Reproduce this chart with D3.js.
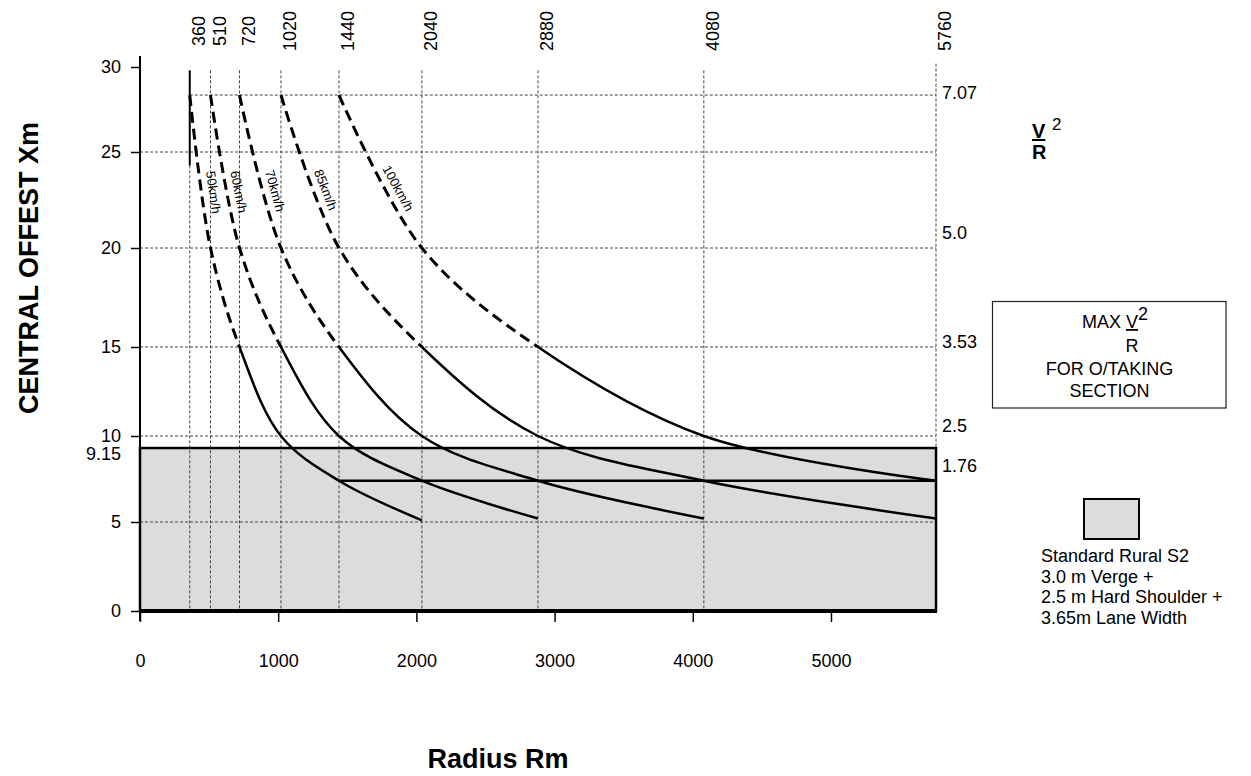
<!DOCTYPE html>
<html><head><meta charset="utf-8">
<script src="https://cdn.jsdelivr.net/npm/d3@7"></script>
<style>
body{margin:0;background:#fff}
svg{display:block}
text{font-family:"Liberation Sans",Arial,Helvetica,sans-serif;fill:#000}
</style>
</head><body>
<svg id="c" width="1251" height="776"></svg>
<script>
// ---------------- data ----------------
const radii = [360, 510, 720, 1020, 1440, 2040, 2880, 4080, 5760];
const radiusLabels = ["360", "510", "720", "1020", "1440", "2040", "2880", "4080", "5760"];
const xTicks = [0, 1000, 2000, 3000, 4000, 5000];
const yTicks = [0, 5, 10, 15, 20, 25, 30];
const gridY = [5, 10, 15, 20, 25];
const topGridY = 28.35;          // V2/R = 7.07 line
const gridTop = 29.8;            // top of vertical grid lines
const speeds = ["50km/h", "60km/h", "70km/h", "85km/h", "100km/h"];
const r50 = [360, 510, 720, 1020, 1440, 2040],   x50 = [28.35, 20, 15, 10, 7.4, 5.1];
const r60 = [510, 720, 1020, 1440, 2040, 2880],  x60 = [28.35, 20, 15, 10, 7.4, 5.2];
const r70 = [720, 1020, 1440, 2040, 2880, 4080], x70 = [28.35, 20, 15, 10, 7.4, 5.2];
const r85 = [1020, 1440, 2040, 2880, 4080, 5760], x85 = [28.35, 20, 15, 10, 7.4, 5.2];
const r100 = [1440, 2040, 2880, 4080, 5760],     x100 = [28.35, 20, 15, 10, 7.4];
const curveR = [r50, r60, r70, r85, r100];
const curveX = [x50, x60, x70, x85, x100];
const solidBelowX = 15;          // curves are dashed above this offset, solid below
const vrLabels = ["7.07", "5.0", "3.53", "2.5", "1.76"];
const vrLabelAt = [28.45, 20.8, 15.25, 10.55, 8.25];
const boxTop = 9.3;              // standard rural S2 cross-section
const boxTopLabel = "9.15";
const overtakeX = 7.4, overtakeFromR = 1440;
const minRadiusMark = [24.3, 29.8]; // solid marker on R=360
const legendLines = ["Standard Rural S2", "3.0 m Verge +", "2.5 m Hard Shoulder +", "3.65m Lane Width"];

// ---------------- scales ----------------
const svg = d3.select("#c");
const x = d3.scaleLinear().domain([0, 5760]).range([140, 936]);
const y = d3.scaleLinear().domain([0, 5, 10, 15, 20, 25, 30]).range([611, 522, 436, 347, 248, 152, 67]);
const RMAX = 5760;

const defs = svg.append("defs");
defs.append("clipPath").attr("id", "clipDash").append("rect")
  .attr("x", 0).attr("y", 0).attr("width", 1251).attr("height", y(solidBelowX));
defs.append("clipPath").attr("id", "clipSolid").append("rect")
  .attr("x", 0).attr("y", y(solidBelowX)).attr("width", 1251).attr("height", 776 - y(solidBelowX));

// gray box fill
svg.append("rect").attr("x", x(0)).attr("y", y(boxTop))
  .attr("width", x(RMAX) - x(0)).attr("height", y(0) - y(boxTop))
  .attr("fill", "#dcdcdc");

// grid
const grid = svg.append("g").attr("stroke", "#444").attr("stroke-width", 1).attr("stroke-dasharray", "3,2");
grid.selectAll("line.h").data(gridY).join("line").attr("class", "h")
  .attr("x1", x(0)).attr("x2", x(RMAX)).attr("y1", d => y(d)).attr("y2", d => y(d));
grid.append("line").attr("x1", x(radii[0])).attr("x2", x(RMAX)).attr("y1", y(topGridY)).attr("y2", y(topGridY));
grid.selectAll("line.v").data(radii).join("line").attr("class", "v")
  .attr("x1", d => x(d)).attr("x2", d => x(d))
  .attr("y1", d => d === RMAX ? y(30.2) : y(gridTop)).attr("y2", y(0));

// min radius solid marker
svg.append("line").attr("x1", x(radii[0])).attr("x2", x(radii[0]))
  .attr("y1", y(minRadiusMark[1])).attr("y2", y(minRadiusMark[0]))
  .attr("stroke", "#000").attr("stroke-width", 2);

// box outline
svg.append("rect").attr("x", x(0)).attr("y", y(boxTop))
  .attr("width", x(RMAX) - x(0)).attr("height", y(0) - y(boxTop))
  .attr("fill", "none").attr("stroke", "#000").attr("stroke-width", 2.5);

// overtaking line
svg.append("line").attr("x1", x(overtakeFromR)).attr("x2", x(RMAX))
  .attr("y1", y(overtakeX)).attr("y2", y(overtakeX))
  .attr("stroke", "#000").attr("stroke-width", 2.5);

// curves
const line = d3.line().x(d => x(d[0])).y(d => y(d[1])).curve(d3.curveCatmullRom.alpha(0.5));
const curveG = svg.append("g").attr("fill", "none").attr("stroke", "#000");
speeds.forEach((s, i) => {
  const pts = curveR[i].map((r, j) => [r, curveX[i][j]]);
  const dp = curveG.append("path").attr("d", line(pts)).attr("clip-path", "url(#clipDash)")
    .attr("stroke-width", 3).attr("stroke-dasharray", "11,6");
  curveG.append("path").attr("d", line(pts)).attr("clip-path", "url(#clipSolid)")
    .attr("stroke-width", 2.5);
  // label along curve
  const node = dp.node();
  const L = node.getTotalLength();
  let lo = 0, hi = L;
  for (let k = 0; k < 40; k++) {
    const m = (lo + hi) / 2;
    if (node.getPointAtLength(m).y < 194) lo = m; else hi = m;
  }
  const p0 = node.getPointAtLength(Math.max(0, lo - 2));
  const p1 = node.getPointAtLength(Math.min(L, lo + 2));
  const p = node.getPointAtLength(lo);
  const ang = Math.atan2(p1.y - p0.y, p1.x - p0.x);
  const cx = p.x + 12 * Math.sin(ang), cy = p.y - 12 * Math.cos(ang);
  svg.append("text").attr("transform", `translate(${cx},${cy}) rotate(${ang * 180 / Math.PI})`)
    .attr("text-anchor", "middle").attr("dominant-baseline", "central")
    .attr("font-size", 13).text(s);
});

// axes
const yAxis = svg.append("g").attr("transform", `translate(${x(0)},0)`)
  .call(d3.axisLeft(y).tickValues(yTicks).tickSize(9).tickPadding(10).tickFormat(d3.format("d")));
yAxis.select(".domain").remove();
yAxis.selectAll(".tick line").attr("stroke", "#000").attr("stroke-width", 1.5);
yAxis.selectAll(".tick text").attr("font-size", 18).attr("font-family", null);
svg.append("line").attr("x1", x(0)).attr("x2", x(0)).attr("y1", 56).attr("y2", 621)
  .attr("stroke", "#000").attr("stroke-width", 2);
svg.append("text").attr("x", x(0) - 19).attr("y", y(boxTop) + 6)
  .attr("text-anchor", "end").attr("dominant-baseline", "central").attr("font-size", 18).text(boxTopLabel);

const xAxis = svg.append("g").attr("transform", `translate(0,${y(0)})`)
  .call(d3.axisBottom(x).tickValues(xTicks).tickSize(11).tickPadding(32).tickFormat(d3.format("d")));
xAxis.select(".domain").remove();
xAxis.selectAll(".tick line").attr("stroke", "#000").attr("stroke-width", 1.5);
xAxis.selectAll(".tick text").attr("font-size", 18).attr("font-family", null);
svg.append("line").attr("x1", x(0)).attr("x2", x(RMAX) + 1).attr("y1", y(0)).attr("y2", y(0))
  .attr("stroke", "#000").attr("stroke-width", 4);

// top radius labels
svg.selectAll("text.top").data(radii).join("text").attr("class", "top")
  .attr("transform", d => `translate(${x(d) + 9},31) rotate(-90)`)
  .attr("text-anchor", "middle").attr("dy", "0.35em").attr("font-size", 18)
  .text((d, i) => radiusLabels[i]);

// right V2/R labels
svg.selectAll("text.vr").data(vrLabels).join("text").attr("class", "vr")
  .attr("x", x(RMAX) + 6).attr("y", (d, i) => y(vrLabelAt[i]))
  .attr("dominant-baseline", "central").attr("font-size", 18).text(d => d);

// V2/R heading
const vh = svg.append("text").attr("x", 1032).attr("y", 138).attr("font-size", 20).attr("font-weight", "bold");
vh.append("tspan").attr("text-decoration", "underline").text("V");
svg.append("text").attr("x", 1052).attr("y", 130).attr("font-size", 17).text("2");
svg.append("text").attr("x", 1032).attr("y", 159).attr("font-size", 20).attr("font-weight", "bold").text("R");

// MAX box
svg.append("rect").attr("x", 992.5).attr("y", 301.5).attr("width", 233.5).attr("height", 106.5)
  .attr("fill", "none").attr("stroke", "#222").attr("stroke-width", 1.2);
const m1 = svg.append("text").attr("x", 1115).attr("y", 328).attr("text-anchor", "middle").attr("font-size", 18);
m1.append("tspan").text("MAX ");
m1.append("tspan").attr("text-decoration", "underline").text("V");
m1.append("tspan").attr("dy", -8).text("2");
svg.append("text").attr("x", 1132).attr("y", 352).attr("text-anchor", "middle").attr("font-size", 18).text("R");
svg.append("text").attr("x", 1109.5).attr("y", 375).attr("text-anchor", "middle").attr("font-size", 18).text("FOR O/TAKING");
svg.append("text").attr("x", 1109.5).attr("y", 397).attr("text-anchor", "middle").attr("font-size", 18).text("SECTION");

// legend
svg.append("rect").attr("x", 1084).attr("y", 499).attr("width", 55).attr("height", 40)
  .attr("fill", "#dcdcdc").attr("stroke", "#000").attr("stroke-width", 2);
svg.selectAll("text.leg").data(legendLines).join("text").attr("class", "leg")
  .attr("x", 1041).attr("y", (d, i) => 562 + i * 20.7).attr("font-size", 18).text(d => d);

// axis titles
svg.append("text").attr("transform", "translate(29,268) rotate(-90)")
  .attr("text-anchor", "middle").attr("dy", "0.35em")
  .attr("font-size", 27).attr("font-weight", "bold").text("CENTRAL OFFEST Xm");
svg.append("text").attr("x", 498).attr("y", 768).attr("text-anchor", "middle")
  .attr("font-size", 27).attr("font-weight", "bold").text("Radius Rm");
</script>
</body></html>
